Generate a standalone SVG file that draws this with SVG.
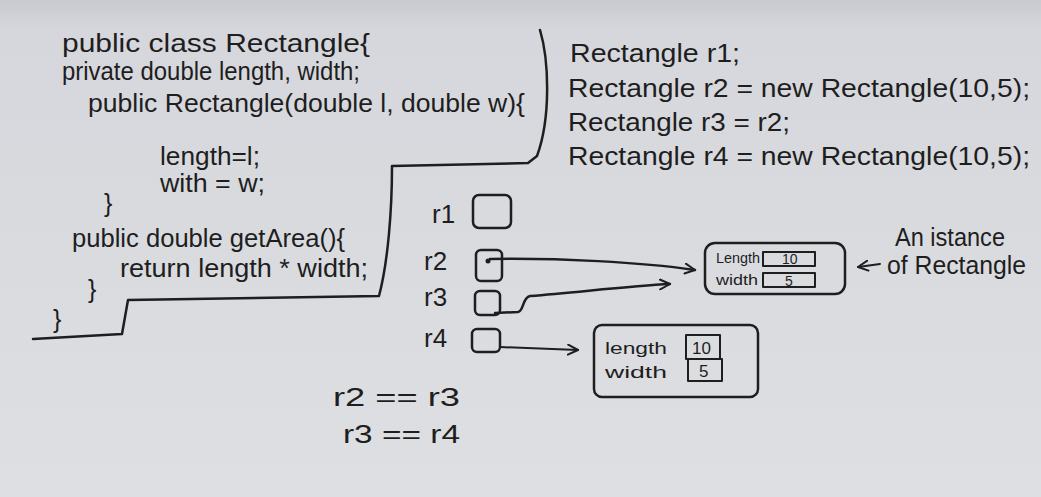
<svg xmlns="http://www.w3.org/2000/svg" width="1041" height="497" viewBox="0 0 1041 497">
  <defs>
    <linearGradient id="bg" x1="0" y1="0" x2="0" y2="1">
      <stop offset="0" stop-color="#c9cacf"/>
      <stop offset="0.06" stop-color="#d6d7dc"/>
      <stop offset="1" stop-color="#dedfe2"/>
    </linearGradient>
    <marker id="arr" viewBox="0 0 12 12" refX="11" refY="6" markerWidth="12" markerHeight="12" markerUnits="userSpaceOnUse" orient="auto">
      <path d="M1,1 L11,6 L1,11" fill="none" stroke="#1e1e1e" stroke-width="2" stroke-linecap="round" stroke-linejoin="round"/>
    </marker>
    <style>
      text { font-family: "Liberation Sans", Arial, sans-serif; fill: #1e1e1e; }
      .code { font-size: 25px; }
      .var { font-size: 26px; }
      .small { font-size: 14px; }
      .fld { font-size: 17px; }
      .ink { fill: none; stroke: #1e1e1e; stroke-width: 2.5; stroke-linecap: round; stroke-linejoin: round; }
      .thin { fill: none; stroke: #1e1e1e; stroke-width: 2; stroke-linecap: round; stroke-linejoin: round; }
    </style>
  </defs>

  <rect x="0" y="0" width="1041" height="497" fill="url(#bg)"/>

  <g id="class-code">
    <text class="code" x="62" y="52" textLength="308" lengthAdjust="spacingAndGlyphs">public class Rectangle{</text>
    <text class="code" x="62" y="80" textLength="298" lengthAdjust="spacingAndGlyphs">private double length, width;</text>
    <text class="code" x="88" y="112" textLength="437" lengthAdjust="spacingAndGlyphs">public Rectangle(double l, double w){</text>
    <text class="code" x="160" y="165" textLength="100" lengthAdjust="spacingAndGlyphs">length=l;</text>
    <text class="code" x="160" y="192" textLength="105" lengthAdjust="spacingAndGlyphs">with = w;</text>
    <text class="code" x="104" y="212">}</text>
    <text class="code" x="72" y="247" textLength="273" lengthAdjust="spacingAndGlyphs">public double getArea(){</text>
    <text class="code" x="120" y="277" textLength="248" lengthAdjust="spacingAndGlyphs">return length * width;</text>
    <text class="code" x="88" y="298">}</text>
    <text class="code" x="53" y="328">}</text>
    <path class="ink" d="M540,30 C549,60 551,118 537,156 L528,163 L392,166 C392,210 388,262 379,296 L128,300 L122,334 L33,339"/>
  </g>

  <g id="main-code">
    <text class="code" x="570" y="62" textLength="170" lengthAdjust="spacingAndGlyphs">Rectangle r1;</text>
    <text class="code" x="568" y="97" textLength="462" lengthAdjust="spacingAndGlyphs">Rectangle r2 = new Rectangle(10,5);</text>
    <text class="code" x="568" y="131" textLength="222" lengthAdjust="spacingAndGlyphs">Rectangle r3 = r2;</text>
    <text class="code" x="568" y="165" textLength="462" lengthAdjust="spacingAndGlyphs">Rectangle r4 = new Rectangle(10,5);</text>
  </g>

  <g id="var-r1">
    <text class="var" x="432" y="223">r1</text>
    <rect class="ink" x="473" y="195" width="38" height="33" rx="6"/>
  </g>
  <g id="var-r2">
    <text class="var" x="424" y="270">r2</text>
    <rect class="ink" x="476" y="250" width="26" height="31" rx="5"/>
    <circle cx="488" cy="261" r="2.5" fill="#1e1e1e"/>
  </g>
  <g id="var-r3">
    <text class="var" x="424" y="306">r3</text>
    <rect class="ink" x="475" y="291" width="25" height="24" rx="5"/>
  </g>
  <g id="var-r4">
    <text class="var" x="424" y="347">r4</text>
    <rect class="ink" x="472" y="329" width="28" height="23" rx="5"/>
  </g>

  <g id="instance-1">
    <rect class="ink" x="705" y="243" width="140" height="51" rx="10"/>
    <text class="small" x="716" y="263" textLength="44" lengthAdjust="spacingAndGlyphs">Length</text>
    <text class="small" x="716" y="285" textLength="42" lengthAdjust="spacingAndGlyphs">width</text>
    <rect class="thin" x="763" y="252" width="52" height="14"/>
    <text class="small" x="782" y="264">10</text>
    <rect class="thin" x="763" y="273" width="52" height="14"/>
    <text class="small" x="785" y="286">5</text>
  </g>

  <g id="instance-2">
    <rect class="ink" x="594" y="325" width="164" height="72" rx="8"/>
    <text class="fld" x="605" y="354" textLength="62" lengthAdjust="spacingAndGlyphs">length</text>
    <text class="fld" x="605" y="378" textLength="62" lengthAdjust="spacingAndGlyphs">width</text>
    <rect class="thin" x="686" y="335" width="34" height="24"/>
    <text class="fld" x="692" y="354">10</text>
    <rect class="thin" x="688" y="359" width="34" height="22"/>
    <text class="fld" x="699" y="377">5</text>
  </g>

  <g id="note">
    <text class="code" x="895" y="246" textLength="110" lengthAdjust="spacingAndGlyphs">An istance</text>
    <text class="code" x="887" y="274" textLength="139" lengthAdjust="spacingAndGlyphs">of Rectangle</text>
  </g>

  <g id="comparisons">
    <text class="var" x="333" y="406" textLength="127" lengthAdjust="spacingAndGlyphs">r2 == r3</text>
    <text class="var" x="343" y="443" textLength="117" lengthAdjust="spacingAndGlyphs">r3 == r4</text>
  </g>

  <g id="connectors">
    <path class="ink" d="M490,259 C560,258 640,262 695,270" marker-end="url(#arr)"/>
    <path class="ink" d="M495,313 L518,312 C524,311 522,298 530,296 C580,292 630,286 670,284" marker-end="url(#arr)"/>
    <path class="thin" d="M500,347 L578,350" marker-end="url(#arr)"/>
    <path class="thin" d="M880,264 L858,267" marker-end="url(#arr)"/>
  </g>
</svg>
